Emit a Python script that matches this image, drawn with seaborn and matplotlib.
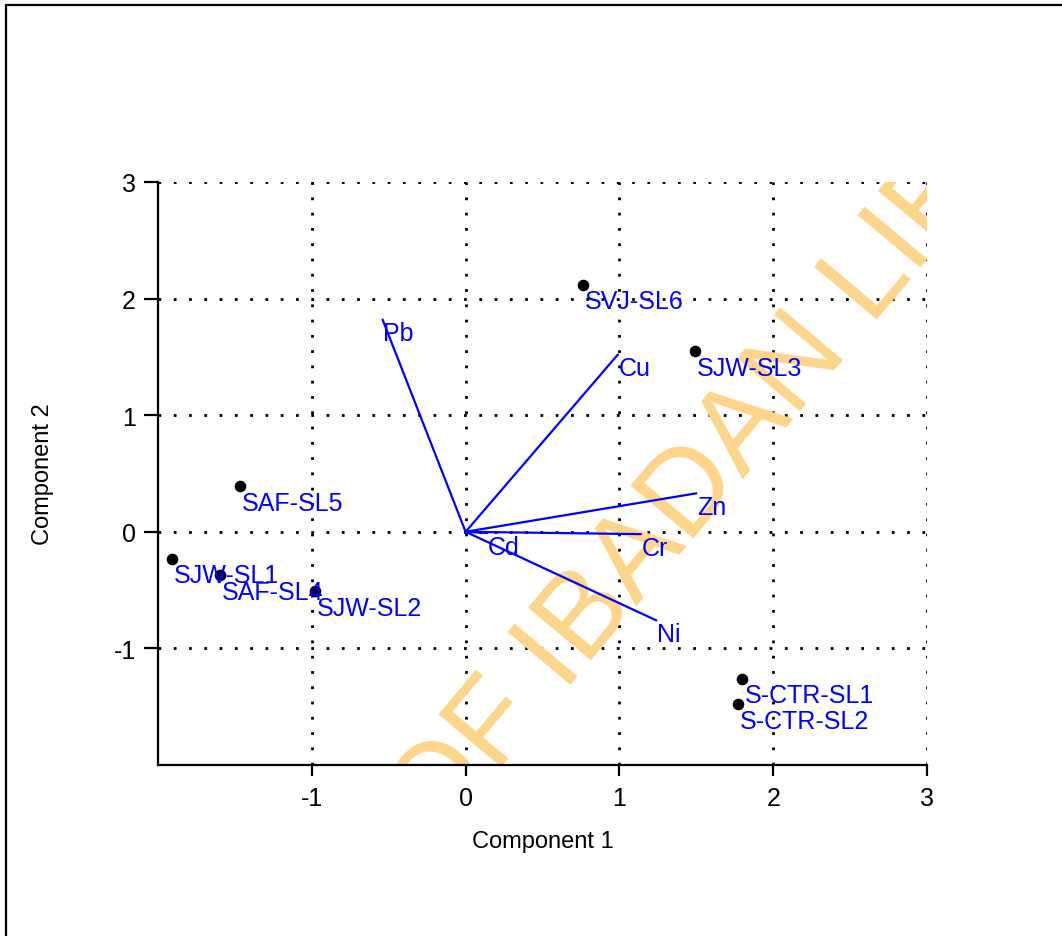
import matplotlib
matplotlib.use("Agg")
import matplotlib.pyplot as plt
from matplotlib.lines import Line2D
import seaborn as sns
import pandas as pd

# sample scores (component 1 / component 2)
samples = ["SVJ-SL6", "SJW-SL3", "SAF-SL5", "SJW-SL1", "SAF-SL4", "SJW-SL2", "S-CTR-SL1", "S-CTR-SL2"]
pc1 = [0.76, 1.49, -1.47, -1.91, -1.60, -0.98, 1.80, 1.77]
pc2 = [2.12, 1.55, 0.39, -0.23, -0.37, -0.51, -1.26, -1.48]

# metal loadings
metals = ["Pb", "Cu", "Zn", "Cr", "Ni", "Cd"]
load1 = [-0.54, 0.99, 1.50, 1.14, 1.24, 0.14]
load2 = [1.82, 1.52, 0.33, -0.02, -0.76, -0.01]

ticks = [-1, 0, 1, 2, 3]

sns.set_style("white")
plt.rcParams["font.family"] = ["Liberation Sans", "DejaVu Sans"]
plt.rcParams["axes.unicode_minus"] = False

fig = plt.figure(figsize=(10.62, 9.37), dpi=100)
ax = fig.add_axes([0.1488, 0.1825, 0.7241, 0.6222])

scores = pd.DataFrame({"sample": samples, "pc1": pc1, "pc2": pc2})
sns.scatterplot(data=scores, x="pc1", y="pc2", color="black", s=70,
                edgecolor="black", linewidth=0, ax=ax, zorder=4)
for name, x, y in zip(samples, pc1, pc2):
    ax.annotate(name, (x, y), xytext=(1.5, -17), textcoords="offset points",
                ha="left", va="baseline", color="blue", fontsize=18, zorder=5)

for name, x, y in zip(metals, load1, load2):
    ax.plot([0, x], [0, y], color="blue", lw=1.6, zorder=3)
    ax.annotate(name, (x, y), xytext=(0.5, -15), textcoords="offset points",
                ha="left", va="baseline", color="blue", fontsize=18, zorder=5)

# watermark
ax.text(0.57, -1.07, "UNIVERSITY OF IBADAN LIBRARY", color="#FDD58A", fontsize=86,
        rotation=50, rotation_mode="anchor", ha="center", va="center",
        clip_on=True, zorder=1)

ax.set_xlim(-2, 3)
ax.set_ylim(-2, 3)
ax.set_xticks(ticks)
ax.set_yticks(ticks)
ax.grid(True, color="black", linestyle=(0, (1, 4.5)), linewidth=2)
ax.set_axisbelow(True)

for s in ["top", "right"]:
    ax.spines[s].set_visible(False)
for s in ["left", "bottom"]:
    ax.spines[s].set_color("black")
    ax.spines[s].set_linewidth(1.6)

ax.tick_params(axis="x", direction="out", length=8, width=1.6, pad=7,
               labelsize=18, colors="black", bottom=True)
ax.tick_params(axis="y", direction="out", length=10, width=1.6, pad=6,
               labelsize=18, colors="black", left=True)

ax.set_xlabel("Component 1", fontsize=17, color="black")
ax.set_ylabel("Component 2", fontsize=17, color="black")
ax.xaxis.set_label_coords(0.5, -0.130)
ax.yaxis.set_label_coords(-0.1495, 0.5)
ax.xaxis.label.set_va("center")
ax.yaxis.label.set_va("center")

# page frame
fig.add_artist(Line2D([6 / 1062, 6 / 1062], [0, 1 - 6 / 937], color="black", lw=1.6))
fig.add_artist(Line2D([6 / 1062, 1], [1 - 6 / 937, 1 - 6 / 937], color="black", lw=1.6))

fig.savefig("out.png", dpi=100)
